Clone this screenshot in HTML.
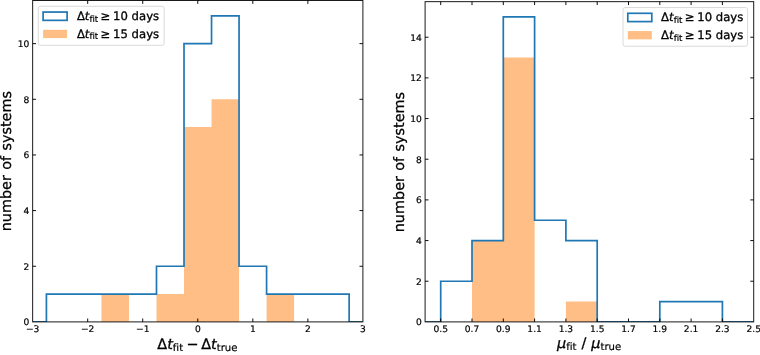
<!DOCTYPE html><html><head><meta charset="utf-8"><title>histograms</title><style>
html,body{margin:0;padding:0;background:#fff;}svg{display:block;}
text{text-rendering:geometricPrecision;stroke:#000;stroke-width:0.3px;font-variant-ligatures:none;font-family:"DejaVu Sans","Liberation Sans",sans-serif;fill:#000;}
.tk{font-size:9.1px;stroke-width:0.2px;}.lb{font-size:14.4px;}.yl{font-size:14.4px;word-spacing:0.8px;stroke-width:0.25px;}.lg{font-size:11.65px;}
.it{font-style:italic;}.sb{stroke-width:0.2px;}
</style></head><body>
<svg width="760" height="355" viewBox="0 0 760 355">
<rect width="760" height="355" fill="#fff"/>
<path d="M101.45 321.90L101.45 294.07L128.97 294.07L128.97 321.90Z" fill="#ffbe86"/>
<path d="M156.49 321.90L156.49 294.07L184.01 294.07L184.01 127.11L211.54 127.11L211.54 99.29L239.06 99.29L239.06 321.90Z" fill="#ffbe86"/>
<path d="M266.58 321.90L266.58 294.07L294.10 294.07L294.10 321.90Z" fill="#ffbe86"/>
<clipPath id="c32"><rect x="32.65" y="0.50" width="330.25" height="321.40"/></clipPath>
<path clip-path="url(#c32)" d="M32.65 321.90L46.41 321.90L46.41 294.07L156.49 294.07L156.49 294.07L156.49 266.25L184.01 266.25L184.01 266.25L184.01 43.63L211.54 43.63L211.54 43.63L211.54 15.80L239.06 15.80L239.06 15.80L239.06 266.25L266.58 266.25L266.58 266.25L266.58 294.07L349.14 294.07L349.14 321.90L362.90 321.90" fill="none" stroke="#1f77b4" stroke-width="1.7" stroke-linejoin="miter"/>
<rect x="32.65" y="0.50" width="330.25" height="321.40" fill="none" stroke="#1a1a1a" stroke-width="1"/>
<text class="tk" x="32.65" y="332.35" text-anchor="middle">−3</text>
<path d="M87.69 321.90v-3.40M87.69 0.50v3.40" stroke="#000" stroke-width="0.95" fill="none"/>
<text class="tk" x="87.69" y="332.35" text-anchor="middle">−2</text>
<path d="M142.73 321.90v-3.40M142.73 0.50v3.40" stroke="#000" stroke-width="0.95" fill="none"/>
<text class="tk" x="142.73" y="332.35" text-anchor="middle">−1</text>
<path d="M197.78 321.90v-3.40M197.78 0.50v3.40" stroke="#000" stroke-width="0.95" fill="none"/>
<text class="tk" x="197.78" y="332.35" text-anchor="middle">0</text>
<path d="M252.82 321.90v-3.40M252.82 0.50v3.40" stroke="#000" stroke-width="0.95" fill="none"/>
<text class="tk" x="252.82" y="332.35" text-anchor="middle">1</text>
<path d="M307.86 321.90v-3.40M307.86 0.50v3.40" stroke="#000" stroke-width="0.95" fill="none"/>
<text class="tk" x="307.86" y="332.35" text-anchor="middle">2</text>
<text class="tk" x="362.90" y="332.35" text-anchor="middle">3</text>
<text class="tk" x="29.35" y="325.35" text-anchor="end">0</text>
<path d="M32.65 266.25h3.40M362.90 266.25h-3.40" stroke="#000" stroke-width="0.95" fill="none"/>
<text class="tk" x="29.35" y="269.70" text-anchor="end">2</text>
<path d="M32.65 210.59h3.40M362.90 210.59h-3.40" stroke="#000" stroke-width="0.95" fill="none"/>
<text class="tk" x="29.35" y="214.04" text-anchor="end">4</text>
<path d="M32.65 154.94h3.40M362.90 154.94h-3.40" stroke="#000" stroke-width="0.95" fill="none"/>
<text class="tk" x="29.35" y="158.39" text-anchor="end">6</text>
<path d="M32.65 99.29h3.40M362.90 99.29h-3.40" stroke="#000" stroke-width="0.95" fill="none"/>
<text class="tk" x="29.35" y="102.74" text-anchor="end">8</text>
<path d="M32.65 43.63h3.40M362.90 43.63h-3.40" stroke="#000" stroke-width="0.95" fill="none"/>
<text class="tk" x="29.35" y="47.08" text-anchor="end">10</text>
<path d="M472.00 321.90L472.00 240.57L503.30 240.57L503.30 57.57L534.60 57.57L534.60 321.90Z" fill="#ffbe86"/>
<path d="M565.90 321.90L565.90 301.57L597.20 301.57L597.20 321.90Z" fill="#ffbe86"/>
<clipPath id="c425"><rect x="425.10" y="1.65" width="328.60" height="320.25"/></clipPath>
<path clip-path="url(#c425)" d="M425.10 321.90L440.70 321.90L440.70 281.23L472.00 281.23L472.00 281.23L472.00 240.57L503.30 240.57L503.30 240.57L503.30 16.90L534.60 16.90L534.60 16.90L534.60 220.23L565.90 220.23L565.90 220.23L565.90 240.57L597.20 240.57L597.20 240.57L597.20 321.90L659.80 321.90L659.80 321.90L659.80 301.57L722.40 301.57L722.40 321.90L753.70 321.90" fill="none" stroke="#1f77b4" stroke-width="1.7" stroke-linejoin="miter"/>
<rect x="425.10" y="1.65" width="328.60" height="320.25" fill="none" stroke="#1a1a1a" stroke-width="1"/>
<path d="M440.70 321.90v-3.40M440.70 1.65v3.40" stroke="#000" stroke-width="0.95" fill="none"/>
<text class="tk" x="440.70" y="332.10" text-anchor="middle">0.5</text>
<path d="M472.00 321.90v-3.40M472.00 1.65v3.40" stroke="#000" stroke-width="0.95" fill="none"/>
<text class="tk" x="472.00" y="332.10" text-anchor="middle">0.7</text>
<path d="M503.30 321.90v-3.40M503.30 1.65v3.40" stroke="#000" stroke-width="0.95" fill="none"/>
<text class="tk" x="503.30" y="332.10" text-anchor="middle">0.9</text>
<path d="M534.60 321.90v-3.40M534.60 1.65v3.40" stroke="#000" stroke-width="0.95" fill="none"/>
<text class="tk" x="534.60" y="332.10" text-anchor="middle">1.1</text>
<path d="M565.90 321.90v-3.40M565.90 1.65v3.40" stroke="#000" stroke-width="0.95" fill="none"/>
<text class="tk" x="565.90" y="332.10" text-anchor="middle">1.3</text>
<path d="M597.20 321.90v-3.40M597.20 1.65v3.40" stroke="#000" stroke-width="0.95" fill="none"/>
<text class="tk" x="597.20" y="332.10" text-anchor="middle">1.5</text>
<path d="M628.50 321.90v-3.40M628.50 1.65v3.40" stroke="#000" stroke-width="0.95" fill="none"/>
<text class="tk" x="628.50" y="332.10" text-anchor="middle">1.7</text>
<path d="M659.80 321.90v-3.40M659.80 1.65v3.40" stroke="#000" stroke-width="0.95" fill="none"/>
<text class="tk" x="659.80" y="332.10" text-anchor="middle">1.9</text>
<path d="M691.10 321.90v-3.40M691.10 1.65v3.40" stroke="#000" stroke-width="0.95" fill="none"/>
<text class="tk" x="691.10" y="332.10" text-anchor="middle">2.1</text>
<path d="M722.40 321.90v-3.40M722.40 1.65v3.40" stroke="#000" stroke-width="0.95" fill="none"/>
<text class="tk" x="722.40" y="332.10" text-anchor="middle">2.3</text>
<text class="tk" x="753.70" y="332.10" text-anchor="middle">2.5</text>
<text class="tk" x="421.80" y="325.35" text-anchor="end">0</text>
<path d="M425.10 281.23h3.40M753.70 281.23h-3.40" stroke="#000" stroke-width="0.95" fill="none"/>
<text class="tk" x="421.80" y="284.68" text-anchor="end">2</text>
<path d="M425.10 240.57h3.40M753.70 240.57h-3.40" stroke="#000" stroke-width="0.95" fill="none"/>
<text class="tk" x="421.80" y="244.02" text-anchor="end">4</text>
<path d="M425.10 199.90h3.40M753.70 199.90h-3.40" stroke="#000" stroke-width="0.95" fill="none"/>
<text class="tk" x="421.80" y="203.35" text-anchor="end">6</text>
<path d="M425.10 159.23h3.40M753.70 159.23h-3.40" stroke="#000" stroke-width="0.95" fill="none"/>
<text class="tk" x="421.80" y="162.68" text-anchor="end">8</text>
<path d="M425.10 118.57h3.40M753.70 118.57h-3.40" stroke="#000" stroke-width="0.95" fill="none"/>
<text class="tk" x="421.80" y="122.02" text-anchor="end">10</text>
<path d="M425.10 77.90h3.40M753.70 77.90h-3.40" stroke="#000" stroke-width="0.95" fill="none"/>
<text class="tk" x="421.80" y="81.35" text-anchor="end">12</text>
<path d="M425.10 37.23h3.40M753.70 37.23h-3.40" stroke="#000" stroke-width="0.95" fill="none"/>
<text class="tk" x="421.80" y="40.68" text-anchor="end">14</text>
<text class="yl" transform="translate(11.10 161.20) rotate(-90)" text-anchor="middle">number of systems</text>
<text class="yl" transform="translate(403.70 162.10) rotate(-90)" text-anchor="middle">number of systems</text>
<text class="lb" x="157.30" y="348.70">Δ<tspan class="it">t</tspan><tspan class="sb" font-size="10.1" dy="1.8">fit</tspan><tspan dy="-1.8" dx="3.4">−</tspan><tspan dx="2.6">Δ</tspan><tspan class="it">t</tspan><tspan class="sb" font-size="10.1" dy="1.8">true</tspan></text>
<text class="lb" x="557.00" y="348.00"><tspan class="it">μ</tspan><tspan class="sb" font-size="10.1" dy="1.8">fit</tspan><tspan dy="-1.8" dx="5.1">/</tspan><tspan class="it" dx="4.9">μ</tspan><tspan class="sb" font-size="10.1" dy="1.8">true</tspan></text>
<rect x="38.30" y="6.30" width="125.90" height="39.00" rx="2" ry="2" fill="#fff" fill-opacity="0.8" stroke="#d0d0d0" stroke-width="0.8"/>
<rect x="43.10" y="12.05" width="24.00" height="8.30" fill="none" stroke="#1f77b4" stroke-width="1.7"/>
<rect x="43.10" y="29.80" width="24.00" height="8.30" fill="#ffbe86"/>
<text class="lg" x="76.90" y="19.80">Δ<tspan class="it">t</tspan><tspan class="sb" font-size="8.6" dy="1.8">fit</tspan><tspan dy="-1.8" dx="2.3">≥</tspan><tspan dx="2.8">10 days</tspan></text>
<text class="lg" x="76.90" y="37.55">Δ<tspan class="it">t</tspan><tspan class="sb" font-size="8.6" dy="1.8">fit</tspan><tspan dy="-1.8" dx="2.3">≥</tspan><tspan dx="2.8">15 days</tspan></text>
<rect x="623.00" y="7.55" width="124.60" height="38.70" rx="2" ry="2" fill="#fff" fill-opacity="0.8" stroke="#d0d0d0" stroke-width="0.8"/>
<rect x="627.80" y="13.30" width="24.00" height="8.30" fill="none" stroke="#1f77b4" stroke-width="1.7"/>
<rect x="627.80" y="31.05" width="24.00" height="8.30" fill="#ffbe86"/>
<text class="lg" x="661.10" y="21.05">Δ<tspan class="it">t</tspan><tspan class="sb" font-size="8.6" dy="1.8">fit</tspan><tspan dy="-1.8" dx="2.3">≥</tspan><tspan dx="2.8">10 days</tspan></text>
<text class="lg" x="661.10" y="38.80">Δ<tspan class="it">t</tspan><tspan class="sb" font-size="8.6" dy="1.8">fit</tspan><tspan dy="-1.8" dx="2.3">≥</tspan><tspan dx="2.8">15 days</tspan></text>
</svg></body></html>
